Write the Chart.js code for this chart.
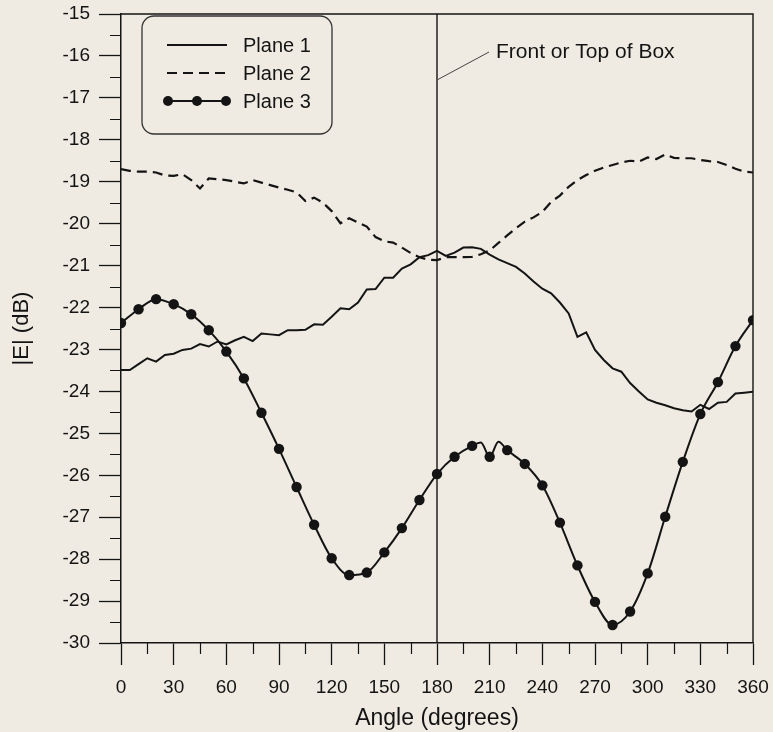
<!DOCTYPE html>
<html>
<head>
<meta charset="utf-8">
<script src="https://cdn.jsdelivr.net/npm/chart.js@4/dist/chart.umd.min.js"></script>
<style>
  html, body { margin: 0; padding: 0; background: #efebe2; }
  #c { display: block; }
</style>
</head>
<body>
<canvas id="c" width="773" height="732"></canvas>
<script>
// angles (degrees) used for planes 1 and 2
const angles = [0, 5, 10, 15, 20, 25, 30, 35, 40, 45, 50, 55, 60, 65, 70, 75, 80, 85, 90, 95,
  100, 105, 110, 115, 120, 125, 130, 135, 140, 145, 150, 155, 160, 165, 170, 175, 180, 185, 190, 195,
  200, 205, 210, 215, 220, 225, 230, 235, 240, 245, 250, 255, 260, 265, 270, 275, 280, 285, 290, 295,
  300, 305, 310, 315, 320, 325, 330, 335, 340, 345, 350, 355, 360];

const plane1 = [-23.49, -23.49, -23.35, -23.21, -23.29, -23.13, -23.10, -23.01, -22.98, -22.87,
  -22.93, -22.81, -22.88, -22.78, -22.70, -22.80, -22.62, -22.64, -22.66, -22.54,
  -22.54, -22.53, -22.40, -22.41, -22.22, -22.02, -22.04, -21.88, -21.57, -21.56,
  -21.29, -21.29, -21.07, -20.97, -20.80, -20.75, -20.65, -20.77, -20.69, -20.57,
  -20.56, -20.60, -20.74, -20.85, -20.94, -21.03, -21.19, -21.38, -21.55, -21.66,
  -21.88, -22.14, -22.70, -22.59, -23.01, -23.25, -23.45, -23.53, -23.80, -24.00,
  -24.19, -24.27, -24.33, -24.40, -24.45, -24.48, -24.32, -24.42, -24.27, -24.25,
  -24.05, -24.03, -24.01];

const plane2 = [-18.70, -18.74, -18.76, -18.76, -18.78, -18.85, -18.86, -18.82, -18.96, -19.16,
  -18.92, -18.94, -18.96, -19.00, -19.04, -18.96, -19.02, -19.08, -19.14, -19.19,
  -19.25, -19.46, -19.38, -19.50, -19.70, -19.99, -19.87, -19.97, -20.07, -20.32,
  -20.42, -20.45, -20.57, -20.70, -20.80, -20.86, -20.87, -20.80, -20.80, -20.80,
  -20.79, -20.73, -20.64, -20.46, -20.28, -20.11, -19.95, -19.85, -19.72, -19.48,
  -19.33, -19.12, -18.96, -18.84, -18.74, -18.66, -18.60, -18.54, -18.50, -18.52,
  -18.42, -18.46, -18.35, -18.43, -18.44, -18.44, -18.48, -18.51, -18.53, -18.60,
  -18.69, -18.76, -18.78];

// plane 3: measured every 10 deg (markers), plus two in-between points of the curve
const angles3 = [0, 10, 20, 30, 40, 50, 60, 70, 80, 90, 100, 110, 120, 130, 140, 150, 160, 170, 180, 190,
  200, 205, 210, 215, 220, 230, 240, 250, 260, 270, 280, 290, 300, 310, 320, 330, 340, 350, 360];
const plane3 = [-22.37, -22.04, -21.80, -21.92, -22.16, -22.54, -23.05, -23.69, -24.51, -25.37,
  -26.28, -27.18, -27.98, -28.38, -28.32, -27.84, -27.26, -26.59, -25.97, -25.56,
  -25.30, -25.22, -25.56, -25.20, -25.40, -25.73, -26.24, -27.13, -28.15, -29.02,
  -29.57, -29.25, -28.34, -26.99, -25.68, -24.54, -23.78, -22.92, -22.30];

const seriesNames = ['Plane 1', 'Plane 2', 'Plane 3'];
const xTicks = [0, 30, 60, 90, 120, 150, 180, 210, 240, 270, 300, 330, 360];
const noteText = 'Front or Top of Box';

const FONT = '"Liberation Sans", Arial, Helvetica, sans-serif';
const INK = '#141414';
const BG = '#efebe2';

const pts = (xs, ys) => xs.map((x, i) => ({ x: x, y: ys[i] }));

const bgPlugin = {
  id: 'bg',
  beforeDraw(chart) {
    const c = chart.ctx;
    c.save();
    c.fillStyle = BG;
    c.fillRect(0, 0, chart.width, chart.height);
    c.restore();
  }
};

const framePlugin = {
  id: 'frame',
  afterDatasetsDraw(chart) {
    const c = chart.ctx;
    const a = chart.chartArea;
    const xs = chart.scales.x, ys = chart.scales.y;
    c.save();
    c.strokeStyle = INK;
    c.lineWidth = 1.4;
    c.beginPath();
    c.moveTo(a.left, a.top); c.lineTo(a.right, a.top); c.lineTo(a.right, a.bottom);
    c.stroke();
    // minor ticks
    c.lineWidth = 1.2;
    c.beginPath();
    for (let v = 15; v < 360; v += 30) {
      const px = Math.round(xs.getPixelForValue(v)) + 0.5;
      c.moveTo(px, a.bottom); c.lineTo(px, a.bottom + 11);
    }
    for (let v = -29.5; v < -15; v += 1) {
      const py = Math.round(ys.getPixelForValue(v)) + 0.5;
      c.moveTo(a.left - 11, py); c.lineTo(a.left, py);
    }
    c.stroke();
    // vertical marker at 180 deg
    const x180 = xs.getPixelForValue(180);
    c.lineWidth = 1.4;
    c.beginPath();
    c.moveTo(x180, a.top); c.lineTo(x180, a.bottom);
    c.stroke();
    // leader line + note
    c.lineWidth = 1;
    c.strokeStyle = '#444';
    c.beginPath();
    c.moveTo(x180, a.top + 66); c.lineTo(x180 + 52, a.top + 38);
    c.stroke();
    c.fillStyle = INK;
    c.font = '21px ' + FONT;
    c.textBaseline = 'middle';
    c.textAlign = 'left';
    c.fillText(noteText, x180 + 59, a.top + 38);
    c.restore();
  }
};

const legendPlugin = {
  id: 'boxLegend',
  afterDraw(chart) {
    const c = chart.ctx;
    const a = chart.chartArea;
    const bx = a.left + 21, by = a.top + 2, bw = 190, bh = 118, r = 12;
    c.save();
    c.strokeStyle = '#333';
    c.lineWidth = 1.3;
    c.beginPath();
    c.roundRect(bx, by, bw, bh, r);
    c.stroke();
    chart.data.datasets.forEach((ds, i) => {
      const y = by + 29 + i * 28;
      const x0 = bx + 25, x1 = bx + 85;
      c.strokeStyle = INK;
      c.lineWidth = ds.borderWidth;
      c.setLineDash(ds.borderDash || []);
      c.beginPath();
      c.moveTo(x0, y); c.lineTo(x1, y);
      c.stroke();
      c.setLineDash([]);
      if (ds.legendMarkers) {
        c.fillStyle = INK;
        [x0 + 1, (x0 + x1) / 2, x1 - 1].forEach(mx => {
          c.beginPath(); c.arc(mx, y, 5, 0, Math.PI * 2); c.fill();
        });
      }
      c.fillStyle = INK;
      c.font = '20px ' + FONT;
      c.textBaseline = 'middle';
      c.textAlign = 'left';
      c.fillText(ds.label, bx + 101, y + 1);
    });
    c.restore();
  }
};

// keep the plot box fixed: no extra room for overhanging tick labels
function noOverhang(s) {
  s.paddingLeft = 0; s.paddingRight = 0; s.paddingTop = 0; s.paddingBottom = 0;
}

new Chart(document.getElementById('c'), {
  type: 'line',
  data: {
    datasets: [
      {
        label: seriesNames[0],
        data: pts(angles, plane1),
        borderColor: INK, borderWidth: 2, pointRadius: 0, tension: 0
      },
      {
        label: seriesNames[1],
        data: pts(angles, plane2),
        borderColor: INK, borderWidth: 2.2, borderDash: [10, 6], pointRadius: 0, tension: 0
      },
      {
        label: seriesNames[2],
        data: pts(angles3, plane3),
        borderColor: INK, borderWidth: 2, cubicInterpolationMode: 'monotone',
        pointRadius: angles3.map(v => (v % 10 === 0 ? 5.2 : 0)),
        pointBackgroundColor: INK, pointBorderWidth: 0,
        legendMarkers: true
      }
    ]
  },
  options: {
    responsive: false,
    animation: false,
    devicePixelRatio: 1,
    layout: { padding: { left: 0, right: 20, top: 14, bottom: 0 } },
    plugins: { legend: { display: false }, tooltip: { enabled: false } },
    scales: {
      x: {
        type: 'linear', min: 0, max: 360,
        afterBuildTicks(s) { s.ticks = xTicks.map(v => ({ value: v })); },
        afterFit(s) { s.height = 89; noOverhang(s); },
        ticks: { font: { family: FONT, size: 19 }, color: INK, padding: 11, maxRotation: 0 },
        grid: { drawOnChartArea: false, drawTicks: true, tickLength: 22, tickColor: INK, tickWidth: 1.3 },
        border: { display: true, color: INK, width: 1.5 },
        title: { display: true, text: 'Angle (degrees)', color: INK, font: { family: FONT, size: 23 }, padding: { top: 1, bottom: 0 } }
      },
      y: {
        type: 'linear', min: -30, max: -15,
        ticks: { stepSize: 1, font: { family: FONT, size: 19 }, color: INK, padding: 9 },
        afterFit(s) { s.width = 121; noOverhang(s); },
        grid: { drawOnChartArea: false, drawTicks: true, tickLength: 22, tickColor: INK, tickWidth: 1.3 },
        border: { display: true, color: INK, width: 1.5 },
        title: { display: true, text: '|E| (dB)', color: INK, font: { family: FONT, size: 22 }, padding: { top: 9, bottom: 0 } }
      }
    }
  },
  plugins: [bgPlugin, framePlugin, legendPlugin]
});
</script>
</body>
</html>
